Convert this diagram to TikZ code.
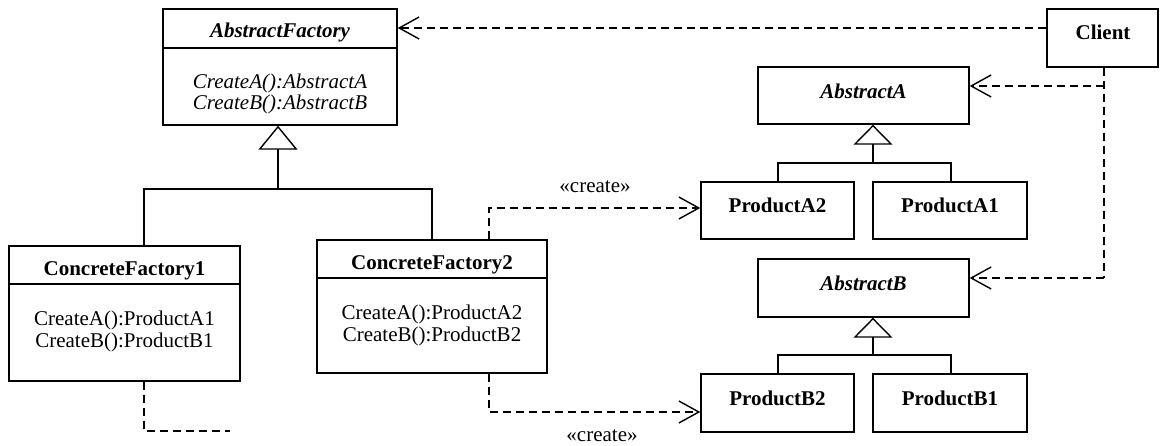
\documentclass[tikz,border=0pt]{standalone}
\usepackage{fontspec}
\setmainfont{Liberation Serif}
\usetikzlibrary{arrows.meta,calc}
\begin{document}
\begin{tikzpicture}[x=1pt,y=-1pt,
  cls/.style={draw, line width=1.4pt, inner sep=0pt},
  txt/.style={inner sep=0pt, anchor=base, font=\fontsize{21}{22}\selectfont},
  ttl/.style={txt, font=\fontsize{21}{22}\selectfont\bfseries},
  ittl/.style={txt, font=\fontsize{21}{22}\selectfont\bfseries\itshape},
  itxt/.style={txt, font=\fontsize{21}{22}\selectfont\itshape},
  lw/.style={line width=1.4pt},
  dep/.style={line width=1.4pt, dash pattern=on 8pt off 5pt},
  deparrow/.style={dep, -{Straight Barb[length=20pt,width=22pt,line width=1.4pt]}},
  gen/.style={line width=1.4pt, -{Triangle[open,length=20pt,width=39pt,line width=1.4pt]}},
  genbig/.style={line width=1.4pt, -{Triangle[open,length=24pt,width=39pt,line width=1.4pt]}},
]
\useasboundingbox (0,0) rectangle (1160,446);
% class boxes
\node[cls, minimum width=234pt, minimum height=116pt] (af) at (280,67) {};
\node[cls, minimum width=231pt, minimum height=135pt] (cf1) at (124.5,313.5) {};
\node[cls, minimum width=230pt, minimum height=133pt] (cf2) at (432,306.5) {};
\node[cls, minimum width=111pt, minimum height=58pt] (cl) at (1102.5,38) {};
\node[cls, minimum width=211pt, minimum height=57pt] (aa) at (863.5,95.5) {};
\node[cls, minimum width=211pt, minimum height=58pt] (ab) at (863.5,288) {};
\node[cls, minimum width=153pt, minimum height=57pt] (pa2) at (777.5,210.5) {};
\node[cls, minimum width=154pt, minimum height=57pt] (pa1) at (950,210.5) {};
\node[cls, minimum width=153pt, minimum height=58pt] (pb2) at (777.5,403) {};
\node[cls, minimum width=154pt, minimum height=58pt] (pb1) at (950,403) {};
% compartments
\draw[lw] (af.west |- 0,48) -- (af.east |- 0,48);
\draw[lw] (cf1.west |- 0,284) -- (cf1.east |- 0,284);
\draw[lw] (cf2.west |- 0,278) -- (cf2.east |- 0,278);
% texts
\node[ittl] (afT) at (280,38) {AbstractFactory};
\node[itxt] (afM1) at (280,88.5) {CreateA():AbstractA};
\node[itxt] (afM2) at (280,110) {CreateB():AbstractB};
\node[ttl] (cf1T) at (124.5,276) {ConcreteFactory1};
\node[txt] (cf1M1) at (124.5,326) {CreateA():ProductA1};
\node[txt] (cf1M2) at (124.5,348) {CreateB():ProductB1};
\node[ttl] (cf2T) at (432,270) {ConcreteFactory2};
\node[txt] (cf2M1) at (432,320) {CreateA():ProductA2};
\node[txt] (cf2M2) at (432,342) {CreateB():ProductB2};
\node[ttl] (clT) at (1103,40) {Client};
\node[ittl] (aaT) at (863.5,99) {AbstractA};
\node[ittl] (abT) at (863.5,291) {AbstractB};
\node[ttl] (pa2T) at (777.5,213) {ProductA2};
\node[ttl] (pa1T) at (950,213) {ProductA1};
\node[ttl] (pb2T) at (777.5,406) {ProductB2};
\node[ttl] (pb1T) at (950,406) {ProductB1};
\node[txt] (c1) at (595,193) {«create»};
\node[txt] (c2) at (602,441) {«create»};
% generalisation: factories
\coordinate (gf) at (278,189);
\draw[genbig] (gf) -- (gf |- af.south);
\draw[lw] (cf1.north -| 144,0) -- (144,189) -- (432,189) -- (cf2.north -| 432,0);
% generalisation: products A
\coordinate (ga) at (873,163);
\draw[gen] (ga) -- (ga |- aa.south);
\draw[lw] (pa2.north -| 778,0) -- (778,163) -- (951,163) -- (pa1.north -| 951,0);
% generalisation: products B
\coordinate (gb) at (873,355);
\draw[gen] (gb) -- (gb |- ab.south);
\draw[lw] (pb2.north -| 778,0) -- (778,355) -- (951,355) -- (pb1.north -| 951,0);
% client dependencies
\coordinate (clAF) at (cl.west |- 0,28);
\draw[deparrow] (clAF) -- (clAF -| af.east);
\coordinate (clA) at (1104,86);
\coordinate (clB) at (1104,278);
\draw[dep] (cl.south -| clA) -- (clB);
\draw[deparrow] (clA) -- (clA -| aa.east);
\draw[deparrow] (clB) -- (clB -| ab.east);
% create dependencies
\coordinate (crA) at (489,208);
\draw[deparrow] (cf2.north -| crA) -- (crA) -- (crA -| pa2.west);
\coordinate (crB) at (489,412);
\draw[deparrow] (cf2.south -| crB) -- (crB) -- (crB -| pb2.west);
% concrete factory 1 dependency (free end)
\coordinate (cr1) at (144,431);
\coordinate (cr1end) at (230,431);
\draw[dep] (cf1.south -| cr1) -- (cr1) -- (cr1end);
\end{tikzpicture}
\end{document}
